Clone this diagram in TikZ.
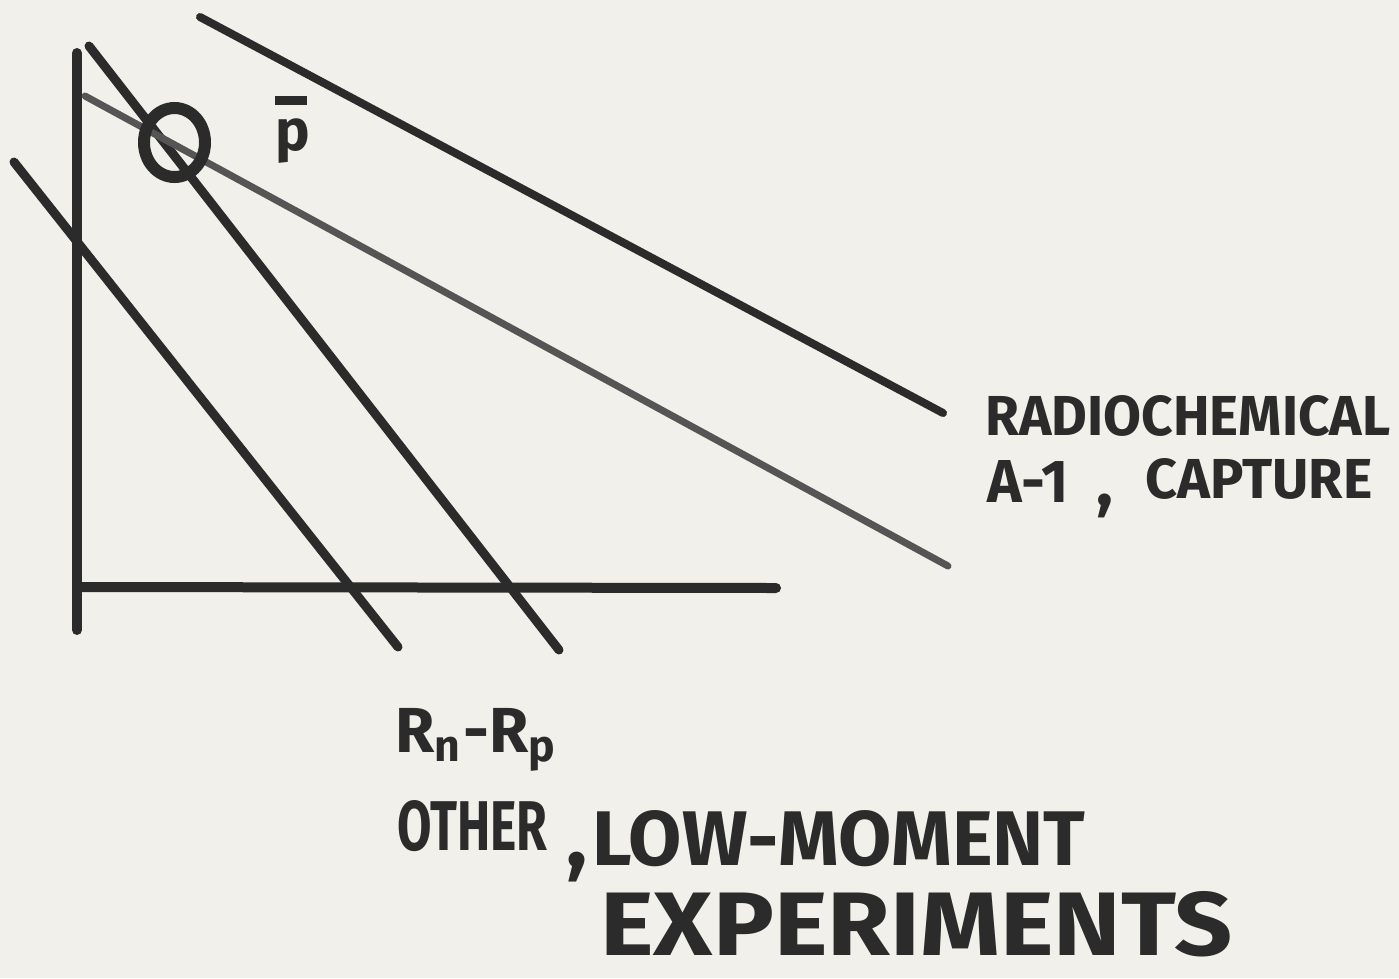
\documentclass[tikz,border=0pt]{standalone}
\usepackage{fontspec}
\usepackage{graphicx}
\usetikzlibrary{shapes.geometric}
\setmainfont{Fira Sans}
\newdimen\pxu
\pxu=0.02cm
\definecolor{paper}{HTML}{F2F0EA}
\definecolor{ink}{HTML}{2B2B2B}
\definecolor{faint}{HTML}{555555}
\tikzset{
  stroke/.style={draw=ink, line cap=round},
  lbl/.style={anchor=base west, inner sep=0pt, text=ink, font=\bfseries},
}
\begin{document}
\begin{tikzpicture}[x=0.02cm, y=-0.02cm]
\fill[paper] (0,0) rectangle (1399,978);
\useasboundingbox (0,0) rectangle (1399,978);

% axes
\coordinate (vtop) at (77,53);
\coordinate (vbot) at (77,630);
\coordinate (hl) at (78,587);
\coordinate (hr) at (776,588);
\draw[stroke, line width=10\pxu] (vtop) -- (vbot);
\draw[stroke, line width=10\pxu] (hl) -- (hr);

% diagonal lines
\coordinate (a1) at (14,162);
\coordinate (a2) at (398,647);
\coordinate (b1) at (89,46);
\coordinate (b2) at (559,650);
\coordinate (c1) at (85,96);
\coordinate (c2) at (948,566);
\coordinate (d1) at (200,17);
\coordinate (d2) at (943,413);
\draw[stroke, line width=9\pxu] (a1) -- (a2);
\draw[stroke, line width=9\pxu] (b1) -- (b2);
\draw[draw=faint, line cap=round, line width=7\pxu] (c1) -- (c2);
\draw[stroke, line width=8\pxu] (d1) -- (d2);

% circle
\node[draw=ink, line width=12\pxu, ellipse, minimum width=61\pxu, minimum height=69\pxu, inner sep=0pt] (ring) at (174.5,142.5) {};

% p-bar
\node[lbl] (pbar) at (275,150) {\fontsize{33}{33}\selectfont\rlap{\raisebox{0.78em}{\rule{0.55em}{0.15em}}}p};

% labels right
\node[lbl] (radio) at (985,435) {\resizebox{405\pxu}{40\pxu}{RADIOCHEMICAL}};
\node[lbl] (a1lbl) at (987,502) {\resizebox{81\pxu}{42\pxu}{A-1}};
\node[lbl] (comma1) at (1096,505) {\fontsize{40}{40}\selectfont ,};
\node[lbl] (capture) at (1145,498) {\resizebox{227\pxu}{40\pxu}{CAPTURE}};

% labels bottom
\node[lbl] (rnrp) at (395,752) {\resizebox{163\pxu}{!}{R\textsubscript{n}-R\textsubscript{p}}};
\node[lbl] (other) at (397,850) {\resizebox{150\pxu}{50\pxu}{OTHER}};
\node[lbl] (comma2) at (566,866) {\fontsize{50}{50}\selectfont ,};
\node[lbl] (low) at (592,865) {\resizebox{493\pxu}{55\pxu}{LOW-MOMENT}};
\node[lbl] (exp) at (600,955) {\resizebox{632\pxu}{64\pxu}{EXPERIMENTS}};
\end{tikzpicture}
\end{document}
